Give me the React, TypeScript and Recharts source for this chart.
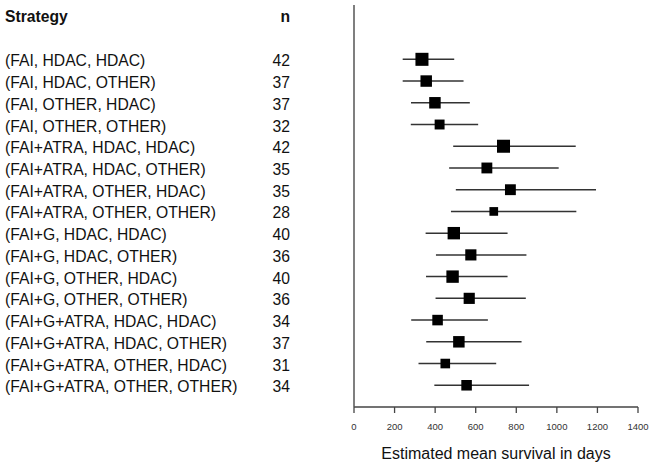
import React from 'react';
import { ScatterChart, Scatter, XAxis, YAxis, ErrorBar } from 'recharts';

const strategies = [
  '(FAI, HDAC, HDAC)',
  '(FAI, HDAC, OTHER)',
  '(FAI, OTHER, HDAC)',
  '(FAI, OTHER, OTHER)',
  '(FAI+ATRA, HDAC, HDAC)',
  '(FAI+ATRA, HDAC, OTHER)',
  '(FAI+ATRA, OTHER, HDAC)',
  '(FAI+ATRA, OTHER, OTHER)',
  '(FAI+G, HDAC, HDAC)',
  '(FAI+G, HDAC, OTHER)',
  '(FAI+G, OTHER, HDAC)',
  '(FAI+G, OTHER, OTHER)',
  '(FAI+G+ATRA, HDAC, HDAC)',
  '(FAI+G+ATRA, HDAC, OTHER)',
  '(FAI+G+ATRA, OTHER, HDAC)',
  '(FAI+G+ATRA, OTHER, OTHER)',
];
const nValues = [42, 37, 37, 32, 42, 35, 35, 28, 40, 36, 40, 36, 34, 37, 31, 34];
const means = [335, 356, 399, 422, 737, 655, 771, 689, 492, 576, 486, 568, 412, 517, 450, 555];
const lower = [240, 240, 281, 280, 489, 469, 502, 478, 353, 404, 355, 402, 282, 356, 318, 396];
const upper = [494, 540, 571, 612, 1093, 1009, 1193, 1096, 757, 850, 757, 847, 660, 826, 701, 863];
const xTicks = [0, 200, 400, 600, 800, 1000, 1200, 1400];

const FONT = '"Liberation Sans", Arial, Helvetica, sans-serif';

const data = strategies.map((s, i) => ({
  row: i,
  strategy: s,
  n: nValues[i],
  mean: means[i],
  err: [means[i] - lower[i], upper[i] - means[i]],
}));

const rowTicks = strategies.map((_, i) => i);

const StrategyTick = (props: any) => {
  const { y, payload } = props;
  const i = payload.value;
  return (
    <g>
      <text x={5} y={y} dy={7} fontSize={15.7} fill="#111" fontFamily={FONT} textAnchor="start">
        {strategies[i]}
      </text>
      <text x={290} y={y} dy={7} fontSize={15.7} fill="#111" fontFamily={FONT} textAnchor="end">
        {nValues[i]}
      </text>
    </g>
  );
};

const SquareShape = (props: any) => {
  const { cx, cy, payload } = props;
  const size = payload.n * 0.31;
  return <rect x={cx - size / 2} y={cy - size / 2} width={size} height={size} fill="#000" />;
};

export default function App() {
  return (
    <div style={{ position: 'absolute', left: 0, top: 0, width: 654, height: 466, background: '#fff' }}>
      <div
        style={{
          position: 'absolute',
          left: 5,
          top: 8,
          fontFamily: FONT,
          fontWeight: 'bold',
          fontSize: 15.7,
          color: '#111',
        }}
      >
        Strategy
      </div>
      <div
        style={{
          position: 'absolute',
          right: 654 - 290,
          top: 8,
          fontFamily: FONT,
          fontWeight: 'bold',
          fontSize: 15.7,
          color: '#111',
        }}
      >
        n
      </div>
      <ScatterChart width={654} height={466} margin={{ top: 5, right: 16, bottom: 0, left: 0 }}>
        <XAxis
          type="number"
          dataKey="mean"
          domain={[0, 1400]}
          ticks={xTicks}
          interval={0}
          height={59}
          tickSize={6}
          tickMargin={10}
          axisLine={{ stroke: '#444', strokeWidth: 1.3 }}
          tickLine={{ stroke: '#444', strokeWidth: 1.3 }}
          tick={{ fontSize: 9.5, fill: '#333', fontFamily: FONT }}
          label={{
            value: 'Estimated mean survival in days',
            position: 'insideBottom',
            offset: 7,
            fontSize: 16,
            fill: '#111',
            fontFamily: FONT,
          }}
        />
        <YAxis
          type="number"
          dataKey="row"
          domain={[-2.5, 16]}
          reversed
          ticks={rowTicks}
          interval={0}
          width={354}
          axisLine={{ stroke: '#555', strokeWidth: 1.5 }}
          tickLine={false}
          tick={<StrategyTick />}
        />
        <Scatter data={data} shape={<SquareShape />} isAnimationActive={false}>
          <ErrorBar dataKey="err" direction="x" width={0} stroke="#333" strokeWidth={1.5} />
        </Scatter>
      </ScatterChart>
    </div>
  );
}
